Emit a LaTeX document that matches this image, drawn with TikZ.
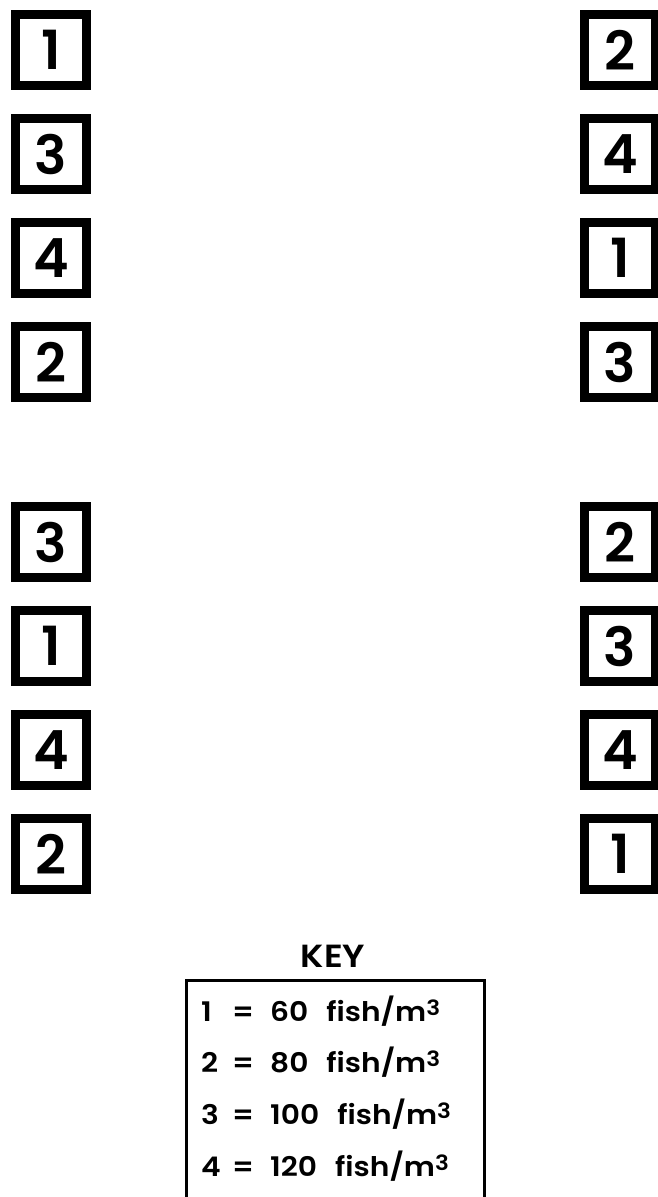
\documentclass[tikz,border=0pt]{standalone}
\usepackage{fontspec}
\setmainfont{Poppins}
\newfontfamily\keyfont{Poppins}[UprightFont=* SemiBold, FakeStretch=1.1]
\newfontfamily\tankfont{Poppins}[UprightFont=* SemiBold]
\usetikzlibrary{positioning}

\begin{document}
\begin{tikzpicture}[x=1pt, y=-1pt,
    tank/.style={draw=black, line width=9pt, minimum size=71pt, inner sep=0pt,
                 font=\tankfont\fontsize{54}{54}\selectfont},
    keyrow/.style={anchor=base west, inner sep=0pt, font=\keyfont\fontsize{27}{27}\selectfont}]
    \useasboundingbox (0,0) rectangle (658,1197);

    % tanks, upper group
    \foreach \d [count=\i] in {1,3,4,2} {
        \node[tank] (LU\i) at (51, {50+104*(\i-1)}) {\d};
    }
    \foreach \d [count=\i] in {2,4,1,3} {
        \node[tank] (RU\i) at (620, {50+104*(\i-1)}) {\d};
    }
    % tanks, lower group
    \foreach \d [count=\i] in {3,1,4,2} {
        \node[tank] (LL\i) at (51, {542+104*(\i-1)}) {\d};
    }
    \foreach \d [count=\i] in {2,3,4,1} {
        \node[tank] (RL\i) at (620, {542+104*(\i-1)}) {\d};
    }

    % key
    \node[anchor=base, inner sep=0pt, font=\keyfont\fontsize{32}{32}\selectfont] (keytitle) at (333, 967) {KEY};
    \draw[line width=3pt] (186,1197) -- (186,980) -- (484,980) -- (484,1197);
    \foreach \d/\v [count=\i] in {1/60, 2/80, 3/100, 4/120} {
        \node[keyrow] (key\i) at (201, {1021+51.7*(\i-1)})
            {\makebox[31pt][l]{\d}\makebox[38pt][l]{=}\v\hspace{18pt}fish/m\raisebox{6pt}{\fontsize{21}{21}\selectfont 3}};
    }
\end{tikzpicture}
\end{document}
